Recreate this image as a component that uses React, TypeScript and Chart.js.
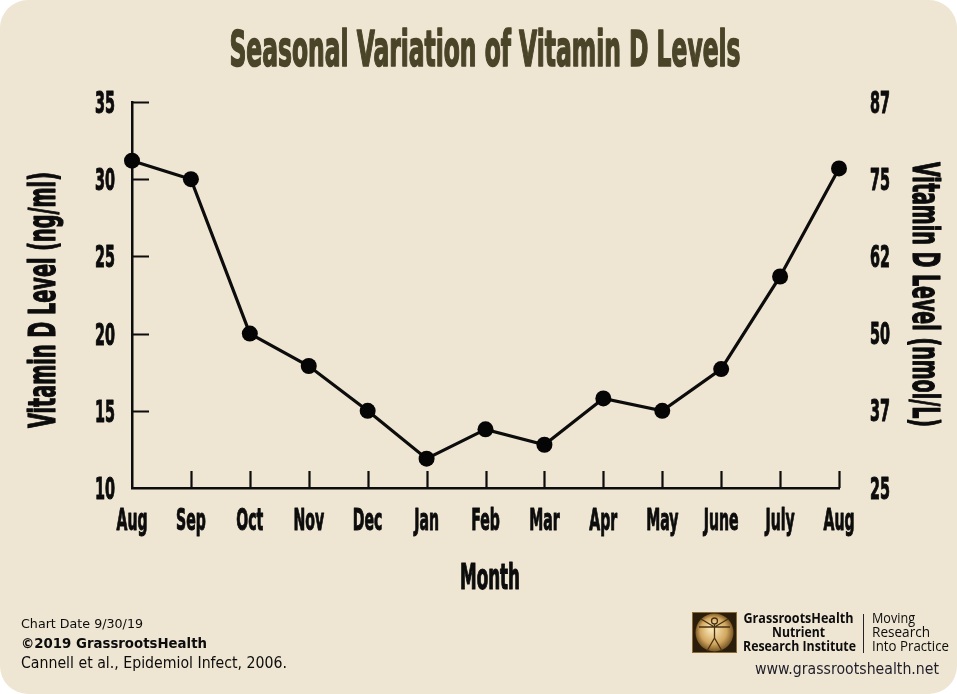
import React, { useEffect, useRef } from 'react';
import { Chart, registerables } from 'chart.js';

Chart.register(...registerables);

// ---- data ----
const months = ['Aug', 'Sep', 'Oct', 'Nov', 'Dec', 'Jan', 'Feb', 'Mar', 'Apr', 'May', 'June', 'July', 'Aug'];
const levelNgMl = [31.2, 30.0, 20.0, 17.9, 15.0, 11.9, 13.8, 12.8, 15.8, 15.0, 17.7, 23.7, 30.7];
const leftTickValues = [10, 15, 20, 25, 30, 35];
const leftTickLabels = ['10', '15', '20', '25', '30', '35'];
const rightTickValues = [25, 37.5, 50, 62.5, 75, 87.5];
const rightTickLabels = ['25', '37', '50', '62', '75', '87'];

const titleText = 'Seasonal Variation of Vitamin D Levels';
const leftAxisTitle = 'Vitamin D Level (ng/ml)';
const rightAxisTitle = 'Vitamin D Level (nmol/L)';
const xAxisTitle = 'Month';
const footerLines = ['Chart Date 9/30/19', '\u00A92019 GrassrootsHealth', 'Cannell et al., Epidemiol Infect, 2006.'];
const logoLeftLines = ['GrassrootsHealth', 'Nutrient', 'Research Institute'];
const logoRightLines = ['Moving', 'Research', 'Into Practice'];
const siteUrl = 'www.grassrootshealth.net';

const W = 957;
const H = 694;
const BG = '#eee5d2';
const INK = '#0c0c0c';
const TITLE_COLOR = '#4a4428';
const NARROW = "'Liberation Sans Narrow','DejaVu Sans Condensed','Liberation Sans',sans-serif";
const SANS = "'DejaVu Sans','Liberation Sans',sans-serif";
const LOGO = "'Open Sans','Lato','Liberation Sans',sans-serif";

type Opts = { w?: number; sx?: number; align?: CanvasTextAlign; rot?: number; heavy?: number };

function drawText(ctx: CanvasRenderingContext2D, text: string, x: number, y: number, font: string, color: string, o: Opts = {}) {
  ctx.save();
  ctx.font = font;
  ctx.fillStyle = color;
  ctx.textBaseline = 'alphabetic';
  const m = ctx.measureText(text).width;
  const sx = o.w ? o.w / m : o.sx ?? 1;
  ctx.translate(x, y);
  if (o.rot) ctx.rotate(o.rot);
  ctx.scale(sx, 1);
  ctx.textAlign = o.align ?? 'left';
  ctx.fillText(text, 0, 0);
  if (o.heavy) {
    ctx.strokeStyle = color;
    ctx.lineWidth = o.heavy;
    ctx.lineJoin = 'round';
    ctx.strokeText(text, 0, 0);
  }
  ctx.restore();
}

function measure(ctx: CanvasRenderingContext2D, text: string, font: string) {
  ctx.save();
  ctx.font = font;
  const w = ctx.measureText(text).width;
  ctx.restore();
  return w;
}

const decorPlugin = {
  id: 'decor',
  beforeDraw(chart: any) {
    const ctx: CanvasRenderingContext2D = chart.ctx;
    ctx.save();
    ctx.clearRect(0, 0, W, H);
    ctx.fillStyle = BG;
    ctx.beginPath();
    (ctx as any).roundRect(0, 0, W, H, 28);
    ctx.fill();
    ctx.restore();
  },
  beforeDatasetsDraw(chart: any) {
    const ctx: CanvasRenderingContext2D = chart.ctx;
    const x = chart.scales.x;
    const y = chart.scales.y;
    const area = chart.chartArea;
    ctx.save();
    ctx.strokeStyle = INK;
    ctx.lineWidth = 2.2;
    ctx.beginPath();
    leftTickValues.forEach((v) => {
      if (v === y.min) return;
      const py = Math.round(y.getPixelForValue(v)) + 0.5;
      ctx.moveTo(area.left, py);
      ctx.lineTo(area.left + 17, py);
    });
    months.forEach((_, i) => {
      if (i === 0) return;
      const px = Math.round(x.getPixelForValue(i)) + 0.5;
      ctx.moveTo(px, area.bottom);
      ctx.lineTo(px, area.bottom - 17);
    });
    ctx.stroke();
    ctx.restore();
  },
  afterDraw(chart: any) {
    const ctx: CanvasRenderingContext2D = chart.ctx;
    const x = chart.scales.x;
    const y = chart.scales.y;
    const y1 = chart.scales.y1;

    // title
    drawText(ctx, titleText, 485, 66, `bold 49px ${NARROW}`, TITLE_COLOR, { w: 511, align: 'center', heavy: 1.6 });

    // left ticks
    const digitFont = `bold 30px ${NARROW}`;
    const sxDigits = 20 / measure(ctx, '30', digitFont);
    leftTickValues.forEach((v, i) => {
      const py = y.getPixelForValue(v);
      drawText(ctx, leftTickLabels[i], 115, py + 11, digitFont, INK, { sx: sxDigits, align: 'right', heavy: 1 });
    });
    // right ticks
    rightTickValues.forEach((v, i) => {
      const py = y1.getPixelForValue(v);
      drawText(ctx, rightTickLabels[i], 880, py + 10.5, digitFont, INK, { sx: sxDigits, align: 'center', heavy: 1 });
    });
    // x ticks
    const xFont = `bold 31px ${NARROW}`;
    const sxX = 31 / measure(ctx, 'Aug', xFont);
    months.forEach((m, i) => {
      const px = x.getPixelForValue(i);
      drawText(ctx, m, px, 530, xFont, INK, { sx: sxX, align: 'center', heavy: 1 });
    });

    // axis titles
    drawText(ctx, leftAxisTitle, 55, 300, `bold 38px ${NARROW}`, INK, { w: 256, align: 'center', rot: -Math.PI / 2, heavy: 1.2 });
    drawText(ctx, rightAxisTitle, 913, 294.5, `bold 38px ${NARROW}`, INK, { w: 265, align: 'center', rot: Math.PI / 2, heavy: 1.2 });
    drawText(ctx, xAxisTitle, 490, 589, `bold 35px ${NARROW}`, INK, { w: 60, align: 'center', heavy: 1.2 });

    // footer left
    drawText(ctx, footerLines[0], 21, 628, `13px ${SANS}`, INK, { w: 122 });
    drawText(ctx, footerLines[1], 21, 648, `bold 14px ${SANS}`, INK, { w: 186 });
    drawText(ctx, footerLines[2], 21, 668, `15px ${SANS}`, INK, { w: 266 });

    // logo box
    ctx.save();
    ctx.fillStyle = '#2b1d0c';
    ctx.fillRect(692, 612, 45, 41);
    ctx.strokeStyle = '#8a6a35';
    ctx.lineWidth = 1;
    ctx.strokeRect(692.5, 612.5, 44, 40);
    const g = ctx.createRadialGradient(712, 628, 3, 714.5, 632.5, 20);
    g.addColorStop(0, '#f6e2b0');
    g.addColorStop(0.6, '#d2a760');
    g.addColorStop(1, '#6b4a1c');
    ctx.fillStyle = g;
    ctx.beginPath();
    ctx.arc(714.5, 632.5, 19, 0, Math.PI * 2);
    ctx.fill();
    ctx.strokeStyle = '#4a3210';
    ctx.lineWidth = 1.3;
    ctx.beginPath();
    ctx.arc(714.5, 621, 3, 0, Math.PI * 2);
    ctx.moveTo(714.5, 624);
    ctx.lineTo(714.5, 638);
    ctx.moveTo(699, 627);
    ctx.lineTo(730, 627);
    ctx.moveTo(714.5, 638);
    ctx.lineTo(707, 651);
    ctx.moveTo(714.5, 638);
    ctx.lineTo(722, 651);
    ctx.moveTo(701, 619);
    ctx.lineTo(714.5, 627);
    ctx.lineTo(728, 619);
    ctx.stroke();
    ctx.restore();

    drawText(ctx, logoLeftLines[0], 798.5, 623, `bold 14px ${LOGO}`, INK, { w: 110, align: 'center' });
    drawText(ctx, logoLeftLines[1], 798.5, 637, `bold 14px ${LOGO}`, INK, { w: 53, align: 'center' });
    drawText(ctx, logoLeftLines[2], 799.5, 651, `bold 14px ${LOGO}`, INK, { w: 113, align: 'center' });
    ctx.save();
    ctx.strokeStyle = '#222';
    ctx.lineWidth = 1;
    ctx.beginPath();
    ctx.moveTo(863.5, 614);
    ctx.lineTo(863.5, 653);
    ctx.stroke();
    ctx.restore();
    drawText(ctx, logoRightLines[0], 872, 623, `14px ${LOGO}`, INK, { w: 43 });
    drawText(ctx, logoRightLines[1], 872, 637, `14px ${LOGO}`, INK, { w: 58 });
    drawText(ctx, logoRightLines[2], 872, 651, `14px ${LOGO}`, INK, { w: 77 });
    drawText(ctx, siteUrl, 755, 674, `15px ${SANS}`, '#1e1e2a', { w: 184 });
  },
};

export default function App() {
  const ref = useRef<HTMLCanvasElement | null>(null);

  useEffect(() => {
    if (!ref.current) return;
    const chart = new Chart(ref.current, {
      type: 'line',
      data: {
        labels: months,
        datasets: [
          {
            data: levelNgMl,
            borderColor: INK,
            borderWidth: 3.2,
            pointRadius: 8,
            pointHoverRadius: 8,
            pointBackgroundColor: '#050505',
            pointBorderWidth: 0,
            tension: 0,
            yAxisID: 'y',
          },
        ],
      },
      options: {
        animation: false,
        responsive: false,
        events: [],
        layout: { padding: { left: 132, right: W - 839, top: 102, bottom: H - 488 } },
        plugins: { legend: { display: false }, tooltip: { enabled: false } },
        scales: {
          x: {
            type: 'category',
            offset: false,
            grid: { display: false, drawTicks: false },
            border: { display: true, color: INK, width: 2.5 },
            ticks: { display: false },
          },
          y: {
            position: 'left',
            min: 10,
            max: 35,
            ticks: { display: false, stepSize: 5 },
            grid: { display: false, drawTicks: false },
            border: { display: true, color: INK, width: 2.5 },
          },
          y1: {
            position: 'right',
            min: 25,
            max: 87.5,
            display: false,
            ticks: { stepSize: 12.5 },
          },
        },
      },
      plugins: [decorPlugin],
    });
    return () => chart.destroy();
  }, []);

  return (
    <div style={{ position: 'absolute', left: 0, top: 0, width: W, height: H }}>
      <canvas ref={ref} width={W} height={H} style={{ display: 'block', width: W, height: H }} />
    </div>
  );
}
